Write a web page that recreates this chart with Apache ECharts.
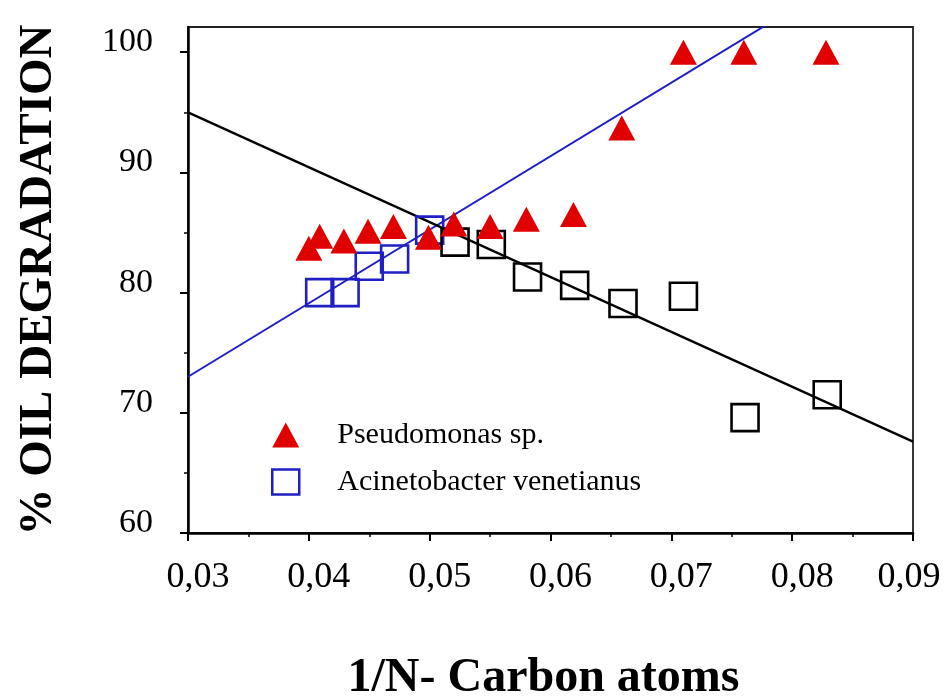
<!DOCTYPE html>
<html>
<head>
<meta charset="utf-8">
<script src="https://cdn.jsdelivr.net/npm/echarts@6/dist/echarts.min.js"></script>
<style>
html,body{margin:0;padding:0;background:#fff;}
#chart{width:945px;height:698px;}
</style>
</head>
<body>
<div id="chart"></div>
<script>
// Pseudomonas sp. (red triangles)
const pseudoX = [0.0400,0.0409,0.0429,0.0449,0.0470,0.0499,0.0520,0.0550,0.0580,0.0619,0.0659,0.0710,0.0760,0.0828];
const pseudoY = [83.7,84.7,84.3,85.1,85.5,84.6,85.7,85.5,86.1,86.5,93.7,100,100,100];
// Acinetobacter venetianus (squares): first group blue, second group black
const acinBlueX = [0.0409,0.0430,0.0450,0.0471,0.0500];
const acinBlueY = [80.0,80.0,82.2,82.8,85.2];
const acinBlackX = [0.0521,0.0551,0.0581,0.0620,0.0660,0.0710,0.0761,0.0829];
const acinBlackY = [84.2,84.0,81.3,80.6,79.1,79.7,69.6,71.5];
// fitted regression lines (end points)
const fitX = [0.03, 0.09];
const fitBlueY = [73.0, 109.7];
const fitBlackY = [95.0, 67.6];
// axis ticks
const yMajorTicks = [60,70,80,90,100];
const yMinorTicks = [65,75,85,95];
const xMax = 0.09;
const legendNames = ['Pseudomonas sp.', 'Acinetobacter venetianus'];
const xTitle = '1/N- Carbon atoms';
const yTitle = '% OIL DEGRADATION';

const RED = '#e00000';
const BLUE = '#1f1fc4';
const zip = (xs, ys) => xs.map((x, i) => [x, ys[i]]);
const FONT = '"Liberation Serif", "Times New Roman", serif';

const chart = echarts.init(document.getElementById('chart'), null, {renderer: 'canvas'});
chart.setOption({
  animation: false,
  backgroundColor: '#fff',
  grid: {left: 188, right: 32, top: 27, bottom: 165, outerBoundsMode: 'none', containLabel: false,
    show: true, borderColor: '#222', borderWidth: 1.8, backgroundColor: 'transparent'},
  legend: {
    orient: 'vertical',
    left: 266, top: 415,
    itemWidth: 27, itemHeight: 25, itemGap: 17,
    selectedMode: false,
    textStyle: {fontFamily: FONT, fontSize: 30, color: '#000', padding: [0,0,0,33]},
    data: [
      {name: legendNames[0], icon: 'triangle', itemStyle: {color: RED, borderWidth: 0, opacity: 1}},
      {name: legendNames[1], icon: 'rect', itemStyle: {color: '#fff', borderColor: BLUE, borderWidth: 2.5, opacity: 1}}
    ]
  },
  xAxis: {
    type: 'value', min: 0.03, max: xMax, interval: 0.01,
    name: '{t|' + xTitle + '}', nameLocation: 'middle', nameGap: 122,
    nameTextStyle: {fontFamily: FONT, fontSize: 48, fontWeight: 'bold', color: '#000',
      rich: {t: {fontFamily: FONT, fontSize: 48, fontWeight: 'bold', color: '#000', padding: [0, 14, 0, 0]}}},
    axisLine: {onZero: false, lineStyle: {color: '#000', width: 2.5}},
    axisTick: {show: true, length: 8, lineStyle: {color: '#000', width: 2}},
    minorTick: {show: true, splitNumber: 2, length: 4, lineStyle: {color: '#000', width: 1.5}},
    splitLine: {show: false},
    axisLabel: {margin: 27, fontFamily: FONT, fontSize: 36, color: '#000',
      formatter: v => {
        const s = v.toFixed(2).replace('.', ',');
        return Math.abs(v - xMax) < 1e-9 ? '{r|' + s + '}' : '{a|' + s + '}';
      },
      rich: {
        a: {fontFamily: FONT, fontSize: 36, color: '#000', padding: [0, 0, 0, 20]},
        r: {fontFamily: FONT, fontSize: 36, color: '#000', padding: [0, 8, 0, 0]}
      }
    }
  },
  yAxis: [{
    type: 'value', min: 60, max: 102.1,
    name: yTitle, nameLocation: 'middle', nameRotate: 90, nameGap: 126,
    nameTextStyle: {fontFamily: FONT, fontSize: 47, fontWeight: 'bold', color: '#000'},
    axisLine: {onZero: false, lineStyle: {color: '#000', width: 2.5}},
    axisTick: {show: true, length: 8, customValues: yMajorTicks, lineStyle: {color: '#000', width: 2}},
    splitLine: {show: false},
    axisLabel: {margin: 35, customValues: yMajorTicks, fontFamily: FONT, fontSize: 34, color: '#000',
      verticalAlign: 'bottom', lineHeight: 20}
  }, {
    type: 'value', min: 60, max: 102.1, position: 'left',
    axisLine: {show: false},
    axisTick: {show: true, length: 4, customValues: yMinorTicks, lineStyle: {color: '#000', width: 1.5}},
    axisLabel: {show: false},
    splitLine: {show: false}
  }],
  series: [
    {
      type: 'line', name: 'fit-blue', data: zip(fitX, fitBlueY), symbol: 'none', clip: true,
      lineStyle: {color: BLUE, width: 2}, z: 2, silent: true
    },
    {
      type: 'line', name: 'fit-black', data: zip(fitX, fitBlackY), symbol: 'none', clip: true,
      lineStyle: {color: '#000', width: 2.3}, z: 2, silent: true
    },
    {
      type: 'scatter', name: legendNames[1], data: zip(acinBlueX, acinBlueY),
      symbol: 'rect', symbolSize: 27,
      itemStyle: {color: 'rgba(0,0,0,0)', borderColor: BLUE, borderWidth: 2.6, opacity: 1}, z: 3
    },
    {
      type: 'scatter', name: 'Acinetobacter (black)', data: zip(acinBlackX, acinBlackY),
      symbol: 'rect', symbolSize: 27,
      itemStyle: {color: 'rgba(0,0,0,0)', borderColor: '#000', borderWidth: 2.6, opacity: 1}, z: 3
    },
    {
      type: 'scatter', name: legendNames[0], data: zip(pseudoX, pseudoY),
      symbol: 'triangle', symbolSize: [27, 25],
      itemStyle: {color: RED, opacity: 1}, z: 4
    }
  ]
});
</script>
</body>
</html>
